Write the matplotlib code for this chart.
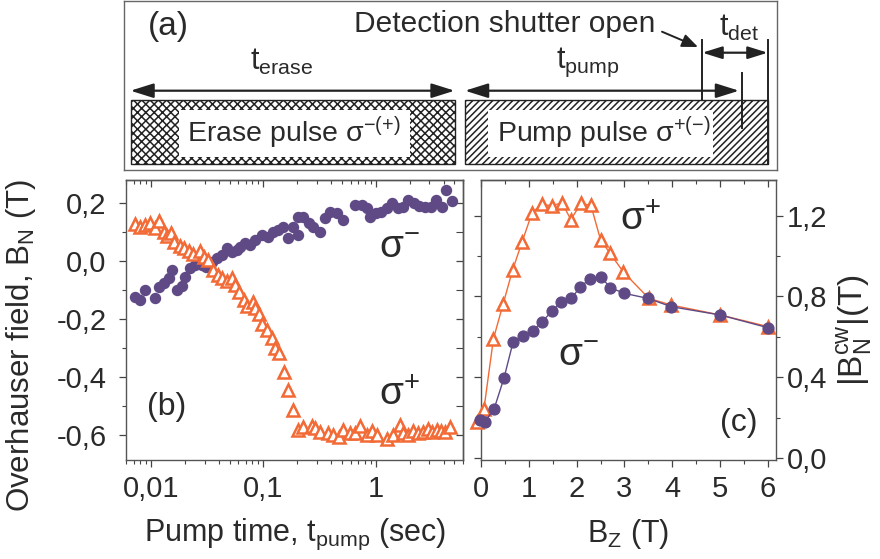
import matplotlib
matplotlib.use('Agg')
import matplotlib.pyplot as plt
from matplotlib.patches import Rectangle
from matplotlib.ticker import FixedLocator, FixedFormatter, LogLocator, NullFormatter, MultipleLocator

FAM = 'Liberation Sans'
plt.rcParams['font.family'] = [FAM, 'DejaVu Sans']
plt.rcParams['mathtext.fontset'] = 'custom'
plt.rcParams['mathtext.rm'] = FAM
plt.rcParams['mathtext.it'] = FAM
plt.rcParams['mathtext.sf'] = FAM
plt.rcParams['mathtext.default'] = 'regular'
plt.rcParams['hatch.linewidth'] = 1.1

TXT = '#2a2a2a'
ORANGE = '#F26A36'
PURPLE = '#5F4A86'
FS = 21

# ---------------- data: panel (b) ----------------
t_plus = [0.00726, 0.00803, 0.0089, 0.00986, 0.0109, 0.0119, 0.01294, 0.01387, 0.01507, 0.0161,
          0.0180, 0.0195, 0.0216, 0.0239, 0.0274, 0.0294, 0.0325, 0.0356, 0.0391, 0.0428,
          0.0474, 0.0525, 0.0561, 0.0610, 0.0666, 0.0713, 0.0807, 0.0846, 0.0905, 0.097,
          0.107, 0.119, 0.127, 0.139, 0.153, 0.167, 0.183, 0.205,
          0.227, 0.270, 0.289, 0.320, 0.379, 0.420, 0.466, 0.515, 0.591, 0.655,
          0.725, 0.832, 0.921, 1.02, 1.25, 1.43, 1.64, 1.76, 1.95, 2.16,
          2.39, 2.65, 2.94, 3.14, 3.48, 3.78, 4.13, 4.57]
b_plus = [0.127, 0.118, 0.124, 0.132, 0.115, 0.136, 0.101, 0.087, 0.095, 0.067,
          0.053, 0.046, 0.034, 0.023, 0.034, 0.015, 0.003, -0.031, -0.048, -0.060,
          -0.069, -0.060, -0.083, -0.108, -0.134, -0.154, -0.142, -0.163, -0.184, -0.218,
          -0.238, -0.267, -0.301, -0.318, -0.382, -0.445, -0.514, -0.583,
          -0.573, -0.568, -0.577, -0.589, -0.592, -0.600, -0.608, -0.583, -0.592, -0.594,
          -0.568, -0.600, -0.585, -0.600, -0.615, -0.600, -0.565, -0.592, -0.600, -0.585,
          -0.594, -0.589, -0.580, -0.589, -0.583, -0.585, -0.589, -0.571]

t_minus = [0.00726, 0.00803, 0.0089, 0.0109, 0.0119, 0.01294, 0.01438, 0.0154, 0.0171, 0.0188,
           0.0202, 0.0224, 0.0249, 0.0284, 0.0310, 0.0348, 0.0385, 0.0428, 0.0474, 0.0525,
           0.0582, 0.0623, 0.0690, 0.0765, 0.0848, 0.0970, 0.111, 0.123, 0.136, 0.151,
           0.167, 0.185, 0.205, 0.205, 0.227, 0.252, 0.279, 0.320, 0.354, 0.393,
           0.450, 0.509, 0.655, 0.751, 0.842, 0.890, 1.01, 1.11, 1.25, 1.39,
           1.56, 1.76, 1.95, 2.19, 2.44, 2.74, 3.08, 3.44, 3.86, 4.22, 4.80]
b_minus = [-0.123, -0.134, -0.100, -0.129, -0.089, -0.077, -0.060, -0.031, -0.100, -0.086,
           -0.054, -0.025, -0.014, -0.014, -0.022, -0.003, 0.009, 0.021, 0.044, 0.032,
           0.038, 0.049, 0.061, 0.055, 0.072, 0.090, 0.084, 0.101, 0.107, 0.118,
           0.078, 0.118, 0.152, 0.090, 0.153, 0.130, 0.118, 0.101, 0.147, 0.170,
           0.164, 0.141, 0.193, 0.193, 0.182, 0.153, 0.164, 0.170, 0.182, 0.199,
           0.182, 0.187, 0.210, 0.199, 0.190, 0.187, 0.185, 0.210, 0.185, 0.245, 0.205]

# ---------------- data: panel (c) ----------------
bz_plus = [-0.09, 0.06, 0.26, 0.46, 0.66, 0.86, 1.07, 1.28, 1.48, 1.69, 1.88, 2.09, 2.30, 2.50,
           2.69, 2.98, 3.51, 3.98, 5.0, 6.01]
bn_plus = [0.18, 0.24, 0.59, 0.76, 0.93, 1.07, 1.215, 1.257, 1.247, 1.264, 1.18, 1.26, 1.25, 1.08,
           1.016, 0.92, 0.79, 0.757, 0.708, 0.65]
bz_minus = [-0.02, 0.08, 0.27, 0.48, 0.67, 0.88, 1.09, 1.28, 1.49, 1.68, 1.89, 2.08, 2.28, 2.51,
            2.70, 3.0, 3.49, 3.98, 5.0, 6.0]
bn_minus = [0.19, 0.18, 0.24, 0.395, 0.573, 0.604, 0.63, 0.675, 0.728, 0.774, 0.79, 0.848, 0.886, 0.898,
            0.843, 0.815, 0.79, 0.749, 0.708, 0.645]

b_xticks = [0.01, 0.1, 1]
b_xticklabels = ['0,01', '0,1', '1']
b_yticks = [-0.6, -0.4, -0.2, 0.0, 0.2]
b_yticklabels = ['-0,6', '-0,4', '-0,2', '0,0', '0,2']
c_xticks = [0, 1, 2, 3, 4, 5, 6]
c_yticks = [0.0, 0.4, 0.8, 1.2]
c_yticklabels = ['0,0', '0,4', '0,8', '1,2']

W, H = 880, 559
fig = plt.figure(figsize=(W / 100, H / 100), dpi=100)

def frac(l, t, r, b):
    return [l / W, 1 - b / H, (r - l) / W, (b - t) / H]

# ---------------- panel (a): schematic ----------------
axa = fig.add_axes(frac(124, 1, 777, 170))
axa.set_xlim(124, 777)
axa.set_ylim(170, 1)
axa.set_xticks([])
axa.set_yticks([])
for s in axa.spines.values():
    s.set_color('#666666')
    s.set_linewidth(1.0)

axa.add_patch(Rectangle((130.5, 100), 454.6 - 130.5, 64.3, facecolor='white', edgecolor='#222222',
                        hatch='xxxx', linewidth=1.0))
axa.add_patch(Rectangle((465, 100), 767.7 - 465, 64.3, facecolor='white', edgecolor='#222222',
                        hatch='/////', linewidth=1.0))
axa.add_patch(Rectangle((179, 110), 231, 47, facecolor='white', edgecolor='none', zorder=3))
axa.add_patch(Rectangle((488, 110), 225, 47, facecolor='white', edgecolor='none', zorder=3))
axa.text(187, 133, 'Erase pulse σ$^{-(+)}$', fontsize=20.5, color=TXT, ha='left', va='center', zorder=4)
axa.text(497, 133, 'Pump pulse σ$^{+(-)}$', fontsize=20.5, color=TXT, ha='left', va='center', zorder=4)

arrow_kw = dict(arrowstyle='<|-|>,head_length=0.7,head_width=0.22', color='#222222', lw=1.6,
                mutation_scale=20, shrinkA=0, shrinkB=0)
axa.annotate('', xy=(454.6, 90.7), xytext=(130.5, 90.7), arrowprops=arrow_kw)
axa.annotate('', xy=(739, 90.7), xytext=(465, 90.7), arrowprops=arrow_kw)
axa.annotate('', xy=(767.7, 52.7), xytext=(702.3, 52.7),
             arrowprops=dict(arrowstyle='<|-|>,head_length=0.8,head_width=0.25', color='#222222', lw=1.6,
                             mutation_scale=15, shrinkA=0, shrinkB=0))
axa.annotate('', xy=(698, 47), xytext=(662, 31.7),
             arrowprops=dict(arrowstyle='-|>,head_length=0.6,head_width=0.25', color='#222222', lw=1.4,
                             mutation_scale=16, shrinkA=0, shrinkB=0))
axa.plot([702.3, 702.3], [40, 100], color='#222222', lw=1.4)
axa.plot([767.7, 767.7], [40, 164.3], color='#222222', lw=1.4)
axa.plot([742.3, 742.3], [72.7, 128.3], color='#222222', lw=1.4)

axa.text(168, 26, '(a)', fontsize=24, color=TXT, ha='center', va='center')
axa.text(505, 24, 'Detection shutter open', fontsize=21.5, color=TXT, ha='center', va='center')
axa.text(282, 62, 't$_{erase}$', fontsize=22, color=TXT, ha='center', va='center')
axa.text(588, 62, 't$_{pump}$', fontsize=22, color=TXT, ha='center', va='center')
axa.text(739, 28, 't$_{det}$', fontsize=22, color=TXT, ha='center', va='center')

# ---------------- panel (b) ----------------
axb = fig.add_axes(frac(126, 180, 463.3, 460))
axb.plot(t_minus, b_minus, 'o', color=PURPLE, ms=7.2, mec=PURPLE, zorder=3)
axb.plot(t_plus, b_plus, '^', color=ORANGE, mfc='white', mec=ORANGE, ms=8.5, mew=1.8, zorder=4)
axb.set_xscale('log')
axb.set_xlim(0.0060, 6.0)
axb.set_ylim(-0.686, 0.279)
axb.xaxis.set_major_locator(FixedLocator(b_xticks))
axb.xaxis.set_major_formatter(FixedFormatter(b_xticklabels))
axb.xaxis.set_minor_locator(LogLocator(base=10, subs=[2, 3, 4, 5, 6, 7, 8, 9], numticks=20))
axb.xaxis.set_minor_formatter(NullFormatter())
axb.yaxis.set_major_locator(FixedLocator(b_yticks))
axb.yaxis.set_major_formatter(FixedFormatter(b_yticklabels))
axb.yaxis.set_minor_locator(MultipleLocator(0.1))
axb.set_xlabel('Pump time, t$_{pump}$ (sec)', fontsize=22, color=TXT, labelpad=10)
axb.set_ylabel('Overhauser field, B$_N$ (T)', fontsize=22.5, color=TXT)
axb.yaxis.set_label_coords(-0.26, 0.41)
axb.text(0.121, 0.189, '(b)', transform=axb.transAxes, fontsize=23, color=TXT, ha='center', va='center')
axb.text(0.75, 0.757, 'σ$^{-}$', transform=axb.transAxes, fontsize=28, color=TXT, ha='left', va='center')
axb.text(0.75, 0.229, 'σ$^{+}$', transform=axb.transAxes, fontsize=28, color=TXT, ha='left', va='center')
axb.tick_params(axis='both', which='both', colors='#444444', labelcolor=TXT, labelsize=FS)
axb.tick_params(axis='x', which='both', bottom=True, top=False, direction='out', pad=6)
axb.tick_params(axis='y', which='both', left=True, right=False, direction='out', pad=9)
axb.tick_params(which='major', length=5, width=0.9)
axb.tick_params(which='minor', length=3, width=0.8)
# inward ticks on the top and right frame
axb_t = axb.secondary_xaxis('top')
axb_t.xaxis.set_major_locator(FixedLocator(b_xticks))
axb_t.xaxis.set_minor_locator(LogLocator(base=10, subs=[2, 3, 4, 5, 6, 7, 8, 9], numticks=20))
axb_t.tick_params(which='both', direction='in', labeltop=False, colors='#444444')
axb_t.tick_params(which='major', length=5, width=0.9)
axb_t.tick_params(which='minor', length=3, width=0.8)
axb_r = axb.secondary_yaxis('right')
axb_r.yaxis.set_major_locator(FixedLocator(b_yticks))
axb_r.yaxis.set_minor_locator(MultipleLocator(0.1))
axb_r.tick_params(which='both', direction='in', labelright=False, colors='#444444')
axb_r.tick_params(which='major', length=5, width=0.9)
axb_r.tick_params(which='minor', length=5, width=0.8)

# ---------------- panel (c) ----------------
axc = fig.add_axes(frac(481, 180, 776, 460))
axc.plot(bz_plus, bn_plus, '-^', color=ORANGE, lw=1.0, mfc='white', mec=ORANGE, ms=9, mew=1.8,
         zorder=3, clip_on=False)
axc.plot(bz_minus, bn_minus, '-o', color=PURPLE, lw=1.0, ms=7.8, mec=PURPLE, zorder=4, clip_on=False)
axc.set_xlim(0, 6.17)
axc.set_ylim(-0.01, 1.376)
axc.xaxis.set_major_locator(FixedLocator(c_xticks))
axc.xaxis.set_minor_locator(MultipleLocator(0.5))
axc.yaxis.set_major_locator(FixedLocator(c_yticks))
axc.yaxis.set_major_formatter(FixedFormatter(c_yticklabels))
axc.yaxis.set_minor_locator(MultipleLocator(0.2))
axc.tick_params(axis='both', which='both', colors='#444444', labelcolor=TXT, labelsize=FS)
axc.tick_params(axis='y', which='both', left=True, right=True, labelleft=False, labelright=True,
                direction='out', pad=3)
axc.tick_params(axis='x', which='both', bottom=True, top=False, direction='out', pad=6)
axc.tick_params(which='major', length=5, width=0.9)
axc.tick_params(which='minor', length=3, width=0.8)
axc_t = axc.secondary_xaxis('top')
axc_t.xaxis.set_major_locator(FixedLocator(c_xticks))
axc_t.xaxis.set_minor_locator(MultipleLocator(0.5))
axc_t.tick_params(which='both', direction='in', labeltop=False, colors='#444444')
axc_t.tick_params(which='major', length=5, width=0.9)
axc_t.tick_params(which='minor', length=3, width=0.8)
axc.yaxis.set_label_position('right')
axc.set_ylabel('|B$_N^{cw}$|(T)', fontsize=24, color=TXT)
axc.yaxis.set_label_coords(1.20, 0.464)
axc.set_xlabel('B$_Z$ (T)', fontsize=22, color=TXT, labelpad=10)
axc.text(0.875, 0.132, '(c)', transform=axc.transAxes, fontsize=23, color=TXT, ha='center', va='center')
axc.text(0.47, 0.857, 'σ$^{+}$', transform=axc.transAxes, fontsize=28, color=TXT, ha='left', va='center')
axc.text(0.26, 0.371, 'σ$^{-}$', transform=axc.transAxes, fontsize=28, color=TXT, ha='left', va='center')

for ax in (axb, axc, axb_t, axb_r, axc_t):
    for s in ax.spines.values():
        s.set_color('#555555')
        s.set_linewidth(1.0)

fig.savefig('out.png', dpi=100)
